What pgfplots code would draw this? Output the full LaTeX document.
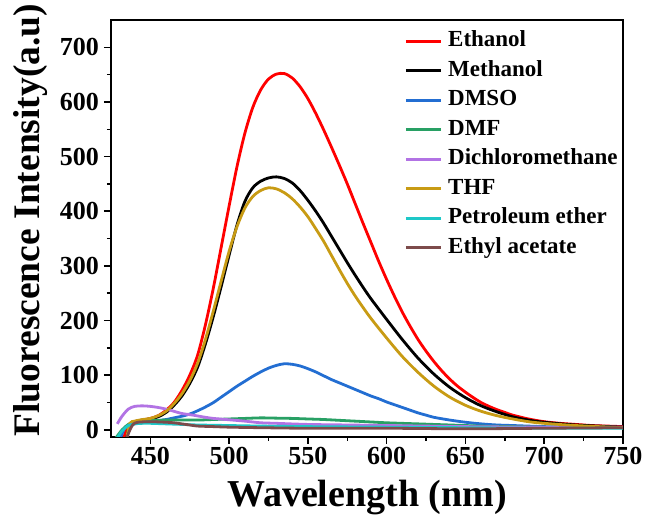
\documentclass[border=0pt]{standalone}
\usepackage{fontspec}
\setmainfont{Liberation Serif}
\usepackage{pgfplots}
\pgfplotsset{compat=1.18}
\definecolor{cRed}{RGB}{255,0,0}
\definecolor{cBlue}{RGB}{35,110,210}
\definecolor{cGreen}{RGB}{40,160,100}
\definecolor{cPurple}{RGB}{178,115,228}
\definecolor{cGold}{RGB}{200,155,20}
\definecolor{cCyan}{RGB}{30,200,200}
\definecolor{cBrown}{RGB}{125,75,75}
\begin{document}
\begin{tikzpicture}
\useasboundingbox (-111pt,-82pt) rectangle (535pt,437pt);
\begin{axis}[
  at={(0pt,0pt)}, anchor=south west,
  scale only axis, width=512pt, height=417pt,
  xmin=425, xmax=750, ymin=-13, ymax=750,
  xtick={450,500,...,750}, ytick={0,100,...,700},
  minor x tick num=1, minor y tick num=1,
  tick pos=left, tick align=outside,
  major tick length=7pt, minor tick length=4pt,
  tick style={line width=1.6pt, black},
  axis line style={line width=1.9pt},
  /pgf/number format/assume math mode=true,
  ticklabel style={font=\fontsize{26}{26}\selectfont\bfseries},
  xticklabel style={inner sep=0pt, yshift=-3pt},
  yticklabel style={inner sep=0pt, xshift=-5pt},
  xlabel={Wavelength (nm)},
  xlabel style={font=\fontsize{38}{38}\selectfont\bfseries, at={(axis description cs:0.5,0)}, anchor=base, yshift=-70pt},
  ylabel={Fluorescence Intensity(a.u)},
  ylabel style={font=\fontsize{37.5}{37.5}\selectfont\bfseries, at={(axis description cs:-0.1406,0.52)}, anchor=base},
  every axis plot/.append style={line width=2.8pt, smooth, tension=0.5},
  legend cell align=left,
  legend image code/.code={\draw[#1, line width=2.8pt] (0pt,0pt) -- (35pt,0pt); \path (41pt,0pt);},
  legend style={draw=none, fill=none, inner sep=0pt, outer sep=0pt,
    at={(axis description cs:0.573,0.974)}, anchor=north west,
    font=\fontsize{23}{23}\selectfont\bfseries,
    nodes={inner sep=0pt, text height=16pt, text depth=5pt},
    row sep=8.5pt},
]
\addplot[cRed] coordinates {(433,-15)(436,8)(440,15)(445,18)(450,21)(455,26)(460,36)(465,50)(470,72)(475,100)(480,137)(485,193)(490,260)(495,335)(500,410)(505,482)(510,543)(515,590)(520,622)(525,642)(530,651)(535,652)(540,644)(545,628)(550,606)(555,579)(560,549)(565,517)(570,484)(575,450)(580,414)(585,378)(590,343)(595,308)(600,275)(605,244)(610,215)(615,189)(620,165)(625,144)(630,125)(635,108)(640,93)(645,80)(650,69)(655,59)(660,50)(665,43)(670,37)(675,32)(680,27)(690,20)(700,15)(710,12)(720,10)(730,8)(740,7)(750,6)};
\addlegendentry{Ethanol}
\addplot[black] coordinates {(435,-15)(437,10)(440,15)(445,18)(450,20)(455,24)(460,32)(465,45)(470,62)(475,85)(480,115)(485,158)(490,208)(495,263)(500,320)(505,375)(510,418)(515,443)(520,455)(525,461)(530,463)(535,460)(540,452)(545,438)(550,420)(555,400)(560,378)(565,354)(570,330)(575,306)(580,283)(585,261)(590,240)(600,202)(610,165)(620,131)(630,102)(640,78)(650,59)(660,44)(670,33)(680,24)(690,18)(700,14)(720,9)(750,5)};
\addlegendentry{Methanol}
\addplot[cBlue] coordinates {(431,-15)(434,5)(438,10)(445,13)(450,15)(455,17)(460,19)(465,22)(470,25)(475,29)(480,35)(485,42)(490,50)(495,60)(500,70)(505,80)(510,89)(515,98)(520,106)(525,113)(530,118)(535,121)(540,120)(545,117)(550,112)(555,106)(560,99)(565,92)(570,86)(575,80)(580,74)(585,68)(590,62)(595,57)(600,51)(605,46)(610,41)(615,36)(620,31)(625,27)(630,23)(640,18)(650,14)(660,11)(670,9)(680,8)(700,6)(720,5)(750,5)};
\addlegendentry{DMSO}
\addplot[cGreen] coordinates {(428,-15)(432,0)(436,10)(440,15)(450,17)(460,18)(470,18)(480,18)(490,19)(500,20)(510,21)(520,22)(530,21.5)(540,21)(550,20)(560,19)(570,17.5)(580,16)(590,14.5)(600,13)(620,11)(640,9)(660,7)(680,6)(700,5)(750,4)};
\addlegendentry{DMF}
\addplot[cPurple] coordinates {(429,11)(432,25)(436,38)(440,43)(445,44)(450,43)(455,41)(460,38)(465,34)(470,30)(477,27)(485,23)(490,21)(498,19)(510,16)(520,13)(530,12)(550,10)(575,9)(600,8)(650,6)(700,5)(750,5)};
\addlegendentry{Dichloromethane}
\addplot[cGold] coordinates {(435,-15)(437,12)(440,16)(445,19)(450,21)(455,26)(460,34)(465,48)(470,66)(475,90)(480,122)(485,166)(490,218)(495,273)(500,327)(505,372)(510,406)(515,427)(520,438)(525,443)(530,441)(535,434)(540,423)(545,408)(550,390)(555,368)(560,345)(565,319)(570,293)(575,268)(580,245)(585,224)(590,204)(600,168)(610,134)(620,105)(630,80)(640,60)(650,45)(660,34)(670,26)(680,20)(690,15)(700,12)(720,8)(750,4)};
\addlegendentry{THF}
\addplot[cCyan] coordinates {(429,-15)(432,-2)(436,8)(440,11)(445,12)(450,12)(460,11)(470,10)(480,9)(500,8)(520,7)(550,6)(600,5)(650,4)(700,3)(750,3)};
\addlegendentry{Petroleum ether}
\addplot[cBrown] coordinates {(435,-15)(437,0)(439,10)(442,14)(450,15)(460,14)(465,13)(470,11)(475,9)(480,7)(490,6)(500,5)(520,4)(550,3)(600,3)(650,2)(700,3)(750,4)};
\addlegendentry{Ethyl acetate}
\end{axis}
\end{tikzpicture}
\end{document}
